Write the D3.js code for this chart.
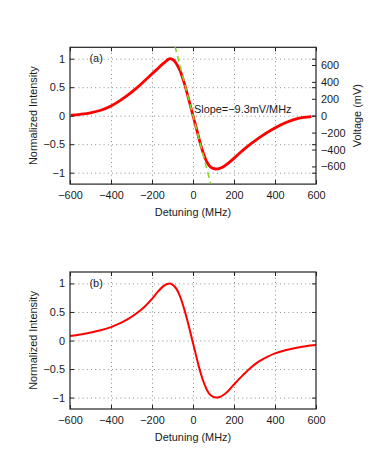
<!DOCTYPE html>
<html>
<head>
<meta charset="utf-8">
<script src="https://cdn.jsdelivr.net/npm/d3@7"></script>
<style>
  body { margin: 0; background: #fff; }
  svg text { font-family: "Liberation Sans", Arial, sans-serif; fill: #1a1a1a; }
  .grid line { stroke: #808080; stroke-width: 0.9; stroke-dasharray: 1 3.2; }
  .grid .domain { display: none; }
  .tk .domain { display: none; }
  .tk line { stroke: #222; }
</style>
</head>
<body>
<div id="chart"></div>
<script>
// panel (a): measured trace, normalized
const detuningA = [-595, -550, -500, -450, -400, -360, -320, -280, -240, -210, -180, -150, -135, -122, -112, -100, -88, -76, -64, -52, -40, -28, -15, 0, 15, 30, 45, 60, 72, 85, 98, 112, 130, 150, 180, 220, 260, 300, 340, 380, 420, 460, 500, 540, 578];
const intensityA = [0.01, 0.025, 0.05, 0.095, 0.17, 0.255, 0.355, 0.47, 0.6, 0.7, 0.8, 0.9, 0.945, 0.985, 1.0, 0.985, 0.95, 0.88, 0.8, 0.68, 0.54, 0.385, 0.205, 0.0, -0.2, -0.41, -0.6, -0.75, -0.84, -0.9, -0.925, -0.935, -0.925, -0.89, -0.81, -0.68, -0.555, -0.445, -0.345, -0.255, -0.175, -0.11, -0.06, -0.03, -0.015];

// fitted slope line (green dashed) endpoints
const slopeX = [-88, 86];
const slopeY = [1.22, -1.19];
const slopeLabel = "Slope=\u22129.3mV/MHz";

// panel (b): calculated curve
const detuningB = [-600, -550, -500, -450, -400, -360, -320, -280, -240, -200, -170, -150, -130, -112, -95, -80, -70, -60, -50, -40, -30, -20, -10, 0, 10, 20, 30, 40, 50, 60, 70, 80, 95, 112, 130, 150, 170, 200, 240, 280, 320, 360, 400, 450, 500, 550, 600];
const intensityB = [0.08, 0.105, 0.14, 0.18, 0.235, 0.295, 0.37, 0.465, 0.58, 0.73, 0.86, 0.935, 0.985, 1.0, 0.965, 0.9, 0.83, 0.74, 0.635, 0.515, 0.385, 0.245, 0.1, -0.045, -0.19, -0.335, -0.475, -0.6, -0.71, -0.805, -0.88, -0.935, -0.98, -1.0, -0.99, -0.95, -0.89, -0.77, -0.62, -0.48, -0.37, -0.29, -0.225, -0.17, -0.13, -0.1, -0.08];

const xTicks = [-600, -400, -200, 0, 200, 400, 600];
const yTicks = [-1, -0.5, 0, 0.5, 1];
const mvTicks = [-600, -400, -200, 0, 200, 400, 600];
const mvRange = 809; // mV at the top of the right axis

const W = 374, H = 474;
const svg = d3.select("#chart").append("svg")
    .attr("width", W).attr("height", H);
svg.append("rect").attr("width", W).attr("height", H).attr("fill", "#fff");

const fs = "10.9px";
const left = 70, right = 316;

const x = d3.scaleLinear().domain([-600, 600]).range([left, right]);

function panel(top, bottom, id, xs, ys, label, lw) {
    const y = d3.scaleLinear().domain([-1.2, 1.2]).range([bottom, top]);
    const g = svg.append("g");
    const h = bottom - top, w = right - left;

    // grid
    g.append("g").attr("class", "grid")
        .attr("transform", "translate(0," + bottom + ")")
        .call(d3.axisBottom(x).tickValues(xTicks.slice(1, -1)).tickSize(-h).tickFormat(""));
    g.append("g").attr("class", "grid")
        .attr("transform", "translate(" + left + ",0)")
        .call(d3.axisLeft(y).tickValues(yTicks).tickSize(-w).tickFormat(""));

    // clip
    svg.append("clipPath").attr("id", "clip" + id)
        .append("rect").attr("x", left).attr("y", top).attr("width", w).attr("height", h);

    const line = d3.line()
        .x((d, i) => x(xs[i]))
        .y((d, i) => y(ys[i]))
        .curve(d3.curveMonotoneX);
    g.append("path")
        .datum(xs)
        .attr("clip-path", "url(#clip" + id + ")")
        .attr("d", line)
        .attr("fill", "none")
        .attr("stroke", "#ff0000")
        .attr("stroke-width", lw)
        .attr("stroke-linejoin", "round");

    // axes with inward ticks
    const fmt = d3.format("~g");
    g.append("g").attr("class", "tk")
        .attr("transform", "translate(0," + bottom + ")")
        .call(d3.axisBottom(x).tickValues(xTicks).tickSize(-4).tickPadding(7.3).tickFormat(fmt))
        .selectAll("text").style("font-size", fs).attr("fill", "#1a1a1a");
    g.append("g").attr("class", "tk")
        .attr("transform", "translate(0," + top + ")")
        .call(d3.axisTop(x).tickValues(xTicks).tickSize(-4).tickFormat(""));
    g.append("g").attr("class", "tk")
        .attr("transform", "translate(" + left + ",0)")
        .call(d3.axisLeft(y).tickValues(yTicks).tickSize(-4).tickPadding(5).tickFormat(fmt))
        .selectAll("text").style("font-size", fs).attr("fill", "#1a1a1a");
    g.append("g").attr("class", "tk")
        .attr("transform", "translate(" + right + ",0)")
        .call(d3.axisRight(y).tickValues(yTicks).tickSize(-4).tickFormat(""));

    // box
    g.append("rect")
        .attr("x", left).attr("y", top).attr("width", w).attr("height", h)
        .attr("fill", "none").attr("stroke", "#222").attr("stroke-width", 1.2);

    // labels
    g.append("text")
        .attr("transform", "translate(36.5," + (top + bottom) / 2 + ") rotate(-90)")
        .attr("text-anchor", "middle").style("font-size", fs)
        .text("Normalized Intensity");
    g.append("text")
        .attr("x", (left + right) / 2).attr("y", bottom + 31.5)
        .attr("text-anchor", "middle").style("font-size", fs)
        .text("Detuning (MHz)");
    g.append("text")
        .attr("x", x(-505)).attr("y", y(1)).attr("dy", "0.33em")
        .style("font-size", fs).text(label);

    return { g, y };
}

const pa = panel(47.3, 184.1, "a", detuningA, intensityA, "(a)", 2.8);

// slope line on top of the trace
pa.g.append("line")
    .attr("clip-path", "url(#clipa)")
    .attr("x1", x(slopeX[0])).attr("y1", pa.y(slopeY[0]))
    .attr("x2", x(slopeX[1])).attr("y2", pa.y(slopeY[1]))
    .attr("stroke", "#84d92c").attr("stroke-width", 1.6)
    .attr("stroke-dasharray", "6 4");
pa.g.append("text")
    .attr("x", x(5)).attr("y", pa.y(0.04))
    .style("font-size", fs).text(slopeLabel);

// right voltage axis
const yv = d3.scaleLinear().domain([-mvRange, mvRange]).range([184.1, 47.3]);
pa.g.append("g").attr("class", "tk")
    .attr("transform", "translate(" + right + ",0)")
    .call(d3.axisRight(yv).tickValues(mvTicks).tickSize(-4).tickPadding(5).tickFormat(d3.format("~g")))
    .selectAll("text").style("font-size", fs).attr("fill", "#1a1a1a");
pa.g.append("text")
    .attr("transform", "translate(360.5," + (47.3 + 184.1) / 2 + ") rotate(-90)")
    .attr("text-anchor", "middle").style("font-size", fs)
    .text("Voltage (mV)");

panel(272, 409, "b", detuningB, intensityB, "(b)", 2);
</script>
</body>
</html>
